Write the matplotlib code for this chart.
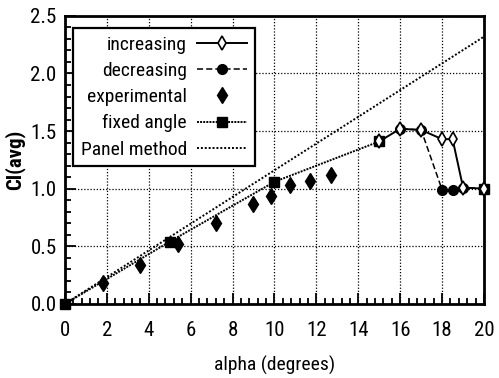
import matplotlib
matplotlib.use("Agg")
import matplotlib.pyplot as plt
from matplotlib.ticker import MultipleLocator, FormatStrFormatter

plt.rcParams['font.family'] = ['Roboto Condensed', 'DejaVu Sans']

# data
inc_a = [15.0, 16.0, 17.0, 18.0, 18.5, 19.0, 20.0]
inc_cl = [1.41, 1.52, 1.51, 1.43, 1.43, 1.01, 1.0]
dec_a = [20.0, 19.0, 18.5, 18.0, 17.0, 16.0]
dec_cl = [1.0, 1.01, 0.99, 0.99, 1.51, 1.52]
exp_a = [1.8, 3.6, 5.4, 7.2, 9.0, 9.85, 10.75, 11.7, 12.7]
exp_cl = [0.18, 0.34, 0.52, 0.70, 0.87, 0.94, 1.03, 1.07, 1.12]
fix_a = [0.0, 5.0, 10.0, 15.0]
fix_cl = [0.0, 0.54, 1.06, 1.41]
fix_end_a = [20.0]
fix_end_cl = [1.0]
panel_a = [0.0, 20.0]
panel_cl = [0.0, 2.32]

fig = plt.figure(figsize=(4.99, 3.78), dpi=100)
ax = fig.add_axes([0.130, 0.196, 0.840, 0.762])

ax.plot(panel_a, panel_cl, color="black", lw=1.4, ls=(0, (1, 1)), label="Panel method", zorder=2)
ax.plot(fix_a, fix_cl, color="black", lw=1.4, ls=(0, (1, 0.6)), marker="s", ms=7,
        label="fixed angle", zorder=3, clip_on=False)
ax.plot(fix_end_a, fix_end_cl, color="black", ls="none", marker="s", ms=7, zorder=3, clip_on=False)
ax.plot(dec_a, dec_cl, color="black", lw=1.1, ls=(0, (4, 2)), marker="o", ms=7,
        label="decreasing", zorder=4, clip_on=False)
ax.plot(inc_a, inc_cl, color="black", lw=1.4, ls="-", marker="d", ms=7, mfc="white", mew=1.2,
        label="increasing", zorder=5, clip_on=False)
ax.plot(exp_a, exp_cl, color="black", ls="none", marker="d", ms=8, label="experimental", zorder=4)

ax.set_xlim(0, 20)
ax.set_ylim(0, 2.5)
ax.xaxis.set_major_locator(MultipleLocator(2))
ax.xaxis.set_minor_locator(MultipleLocator(0.4))
ax.yaxis.set_major_locator(MultipleLocator(0.5))
ax.yaxis.set_minor_locator(MultipleLocator(0.1))
ax.yaxis.set_major_formatter(FormatStrFormatter("%.1f"))
ax.tick_params(which="both", direction="in", top=False, right=False, width=1.3)
ax.tick_params(which="major", length=8, labelsize=15)
ax.tick_params(axis="x", which="major", pad=12)
ax.tick_params(axis="y", which="major", pad=6)
ax.tick_params(which="minor", length=4)
ax.grid(True, which="major", color="black", lw=0.9, ls=(0, (1, 1.5)))
for s in ax.spines.values():
    s.set_linewidth(2)

ax.set_xlabel("alpha (degrees)", fontsize=14, labelpad=12)
ax.set_ylabel("Cl(avg)", fontsize=15, fontweight="bold", labelpad=4)

# markerfirst=False puts the handles on the right and right-aligns the labels
h, l = ax.get_legend_handles_labels()
order = ["increasing", "decreasing", "experimental", "fixed angle", "Panel method"]
hh = [h[l.index(o)] for o in order]
leg = ax.legend(hh, order, loc="upper left", markerfirst=False, fontsize=14,
                fancybox=False, framealpha=1, edgecolor="black", handlelength=2.6,
                borderaxespad=0, labelspacing=0.42, handletextpad=0.5, borderpad=0.4,
                bbox_to_anchor=(0.019, 0.958))
leg.get_frame().set_linewidth(1.6)

fig.savefig("out.png", dpi=100, facecolor="white")
